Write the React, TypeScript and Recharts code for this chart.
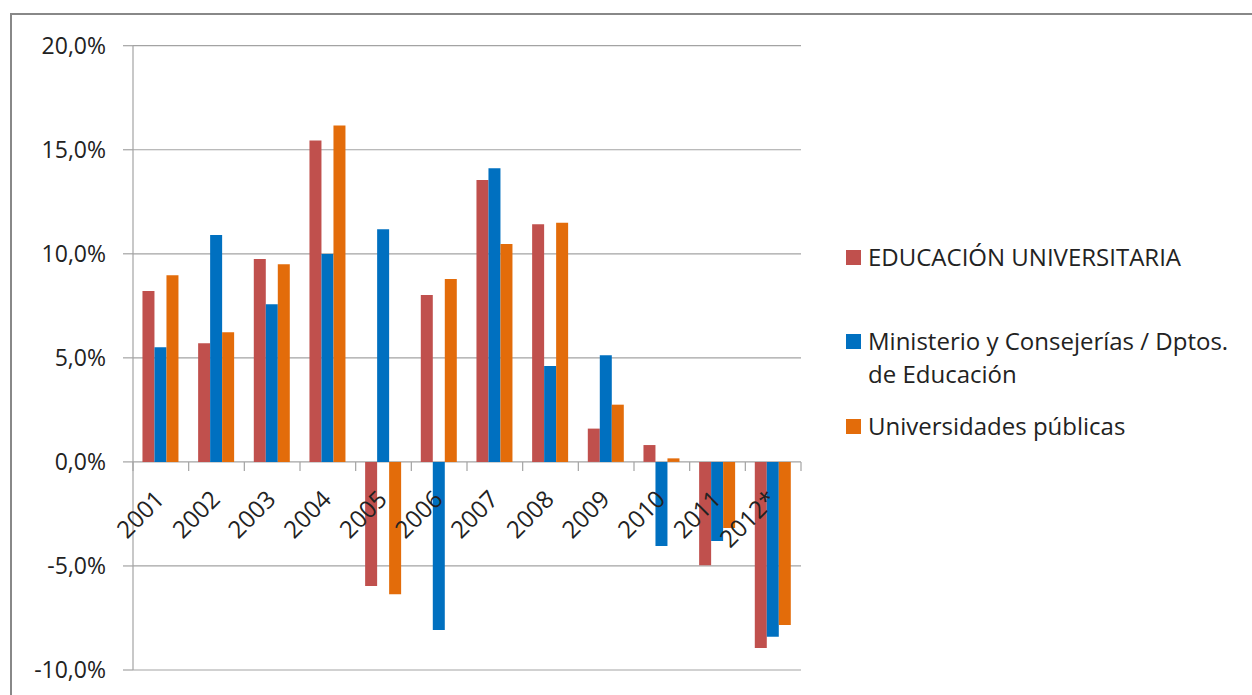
import React from 'react';
import { BarChart, Bar, XAxis, YAxis, CartesianGrid, Legend } from 'recharts';

const categories = ['2001', '2002', '2003', '2004', '2005', '2006', '2007', '2008', '2009', '2010', '2011', '2012*'];
const educacionUniversitaria = [8.21, 5.7, 9.75, 15.45, -5.96, 8.02, 13.55, 11.42, 1.6, 0.81, -4.97, -8.94];
const ministerioConsejerias = [5.51, 10.9, 7.57, 9.99, 11.18, -8.08, 14.11, 4.61, 5.12, -4.04, -3.8, -8.4];
const universidadesPublicas = [8.97, 6.23, 9.5, 16.17, -6.36, 8.79, 10.47, 11.49, 2.75, 0.17, -3.18, -7.84];
const yTicks = [-10, -5, 0, 5, 10, 15, 20];
const seriesNames = ['EDUCACIÓN UNIVERSITARIA', 'Ministerio y Consejerías / Dptos. de Educación', 'Universidades públicas'];
const seriesKeys = ['edu', 'min', 'uni'];
const seriesColors = ['#C0504D', '#0070C0', '#E36C0A'];

const data = categories.map((c, i) => ({
  year: c,
  edu: educacionUniversitaria[i],
  min: ministerioConsejerias[i],
  uni: universidadesPublicas[i],
}));

const W = 1252;
const H = 695;
const TOP = 45.7;
const BOTTOM = 25;
const PLOT_LEFT = 133;
const PLOT_RIGHT = 801;
const Y_AXIS_W = 120;
const Y_MIN = -10;
const Y_MAX = 20;
const PLOT_H = H - TOP - BOTTOM;
const ZERO_Y = TOP + ((Y_MAX - 0) / (Y_MAX - Y_MIN)) * PLOT_H;
const BAND = (PLOT_RIGHT - PLOT_LEFT) / categories.length;
const FONT = "'Open Sans', sans-serif";
const TEXT = '#222';
const GRID = '#a3a3a3';

const fmt = (v: number) => v.toFixed(1).replace('.', ',') + '%';

const XTick = (props: any) => {
  const { x, payload, index } = props;
  const half = BAND / 2;
  const isLast = index === categories.length - 1;
  const lx = x + 5;
  const ly = ZERO_Y + 39;
  return (
    <g>
      <line x1={x - half} x2={x - half} y1={ZERO_Y} y2={ZERO_Y + 9} stroke={GRID} strokeWidth={1.2} />
      {isLast && <line x1={x + half} x2={x + half} y1={ZERO_Y} y2={ZERO_Y + 9} stroke={GRID} strokeWidth={1.2} />}
      <text x={lx} y={ly} textAnchor="end" fill={TEXT} fontSize={24} fontFamily={FONT} transform={`rotate(-45, ${lx}, ${ly})`}>
        {payload.value}
      </text>
    </g>
  );
};

const LegendContent = () => {
  const rowTops = [0, 84, 169];
  return (
    <div style={{ position: 'relative', width: 400, height: 220, fontFamily: FONT, fontSize: 24, lineHeight: '33px', color: TEXT }}>
      {seriesNames.map((name, i) => (
        <div key={name} style={{ position: 'absolute', left: 0, top: rowTops[i], width: 400 }}>
          <div style={{ position: 'absolute', left: 0, top: 10.5, width: 15, height: 15, background: seriesColors[i] }} />
          <div style={{ position: 'absolute', left: 22, top: 0, width: 378, whiteSpace: 'normal' }}>{name}</div>
        </div>
      ))}
    </div>
  );
};

export default function App() {
  return (
    <div style={{ position: 'fixed', left: 0, top: 0, width: W, height: H, background: '#fff', overflow: 'hidden', fontFamily: FONT }}>
      <div style={{ position: 'absolute', left: 10, top: 13, width: 1400, height: 1000, border: '2px solid #888', boxSizing: 'border-box' }} />
      <div style={{ position: 'absolute', left: 0, top: 0 }}>
        <BarChart
          width={W}
          height={H}
          data={data}
          margin={{ top: TOP, right: W - PLOT_RIGHT, bottom: 0, left: PLOT_LEFT - Y_AXIS_W }}
          barCategoryGap="17%"
          barGap={0}
        >
          <CartesianGrid vertical={false} stroke={GRID} strokeWidth={1.2} />
          {seriesKeys.map((k, i) => (
            <Bar key={k} dataKey={k} name={seriesNames[i]} fill={seriesColors[i]} isAnimationActive={false} />
          ))}
          <YAxis
            width={Y_AXIS_W}
            domain={[Y_MIN, Y_MAX]}
            ticks={yTicks}
            interval={0}
            tickFormatter={fmt}
            tickSize={10}
            tickMargin={17}
            axisLine={{ stroke: GRID, strokeWidth: 1.2 }}
            tickLine={{ stroke: GRID, strokeWidth: 1.2 }}
            tick={{ fill: TEXT, fontSize: 23, fontFamily: FONT }}
            allowDataOverflow
          />
          <XAxis dataKey="year" height={BOTTOM} axisLine={false} tickLine={false} interval={0} tick={<XTick />} />
          <Legend
            layout="vertical"
            align="center"
            verticalAlign="middle"
            content={<LegendContent />}
            wrapperStyle={{ left: 846, top: 239.6, width: 400, height: 220 }}
          />
        </BarChart>
      </div>
    </div>
  );
}
